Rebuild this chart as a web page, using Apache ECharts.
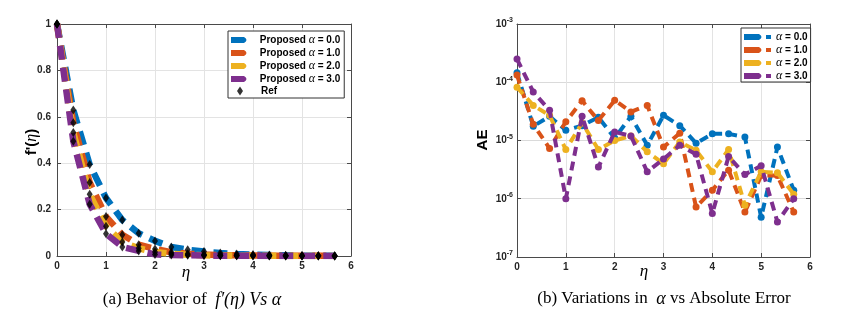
<!DOCTYPE html>
<html><head><meta charset="utf-8">
<script src="https://cdn.jsdelivr.net/npm/echarts@6/dist/echarts.min.js"></script>
<style>html,body{margin:0;padding:0;background:#fff}#c{width:849px;height:333px}</style>
</head><body><div id="c"></div>
<script>
// ---- data ----
const eta = [0, 0.333, 0.667, 1, 1.333, 1.667, 2, 2.333, 2.667, 3, 3.333, 3.667, 4, 4.333, 4.667, 5, 5.333, 5.667];
const alphaNames = ['0.0', '1.0', '2.0', '3.0'];
// f'(eta) for alpha = 0,1,2,3 (proposed and reference coincide)
const fpA0 = [1, 0.629, 0.394, 0.250, 0.155, 0.098, 0.065, 0.039, 0.027, 0.019, 0.013, 0.009, 0.006, 0.004, 0.003, 0.002, 0.0015, 0.001];
const fpA1 = [1, 0.574, 0.317, 0.170, 0.092, 0.049, 0.030, 0.016, 0.010, 0.006, 0.004, 0.003, 0.002, 0.0015, 0.001, 0.001, 0.0007, 0.0005];
const fpA2 = [1, 0.532, 0.266, 0.128, 0.060, 0.033, 0.017, 0.010, 0.005, 0.003, 0.002, 0.0015, 0.001, 0.0007, 0.0005, 0.0004, 0.0003, 0.0002];
const fpA3 = [1, 0.495, 0.223, 0.096, 0.039, 0.022, 0.007, 0.004, 0.003, 0.002, 0.001, 0.0008, 0.0006, 0.0004, 0.0003, 0.0002, 0.0001, 0.0001];
// absolute error for alpha = 0,1,2,3
const aeA0 = [1.46e-4, 1.76e-5, 2.6e-5, 1.5e-5, 1.8e-5, 2.5e-5, 1.1e-5, 2.6e-5, 8.3e-6, 2.7e-5, 1.8e-5, 9.0e-6, 1.3e-5, 1.3e-5, 1.15e-5, 4.8e-7, 7.7e-6, 1.4e-6];
const aeA1 = [1.33e-4, 1.9e-5, 7.3e-6, 2.1e-5, 4.8e-5, 2.2e-5, 4.9e-5, 3.1e-5, 4.0e-5, 7.7e-6, 1.33e-5, 7.2e-7, 1.4e-6, 3.1e-6, 5.9e-7, 2.5e-6, 2.5e-6, 5.9e-7];
const aeA2 = [8.2e-5, 4.0e-5, 2.7e-5, 7.0e-6, 2.0e-5, 7.0e-6, 1.0e-5, 1.2e-5, 6.4e-6, 4.0e-6, 9.4e-6, 6.8e-6, 2.9e-6, 7.0e-6, 7.7e-7, 2.9e-6, 2.8e-6, 1.2e-6];
const aeA3 = [2.5e-4, 6.8e-5, 3.3e-5, 1.0e-6, 2.6e-5, 3.5e-6, 1.4e-5, 1.2e-5, 2.9e-6, 4.8e-6, 8.3e-6, 5.8e-6, 5.6e-7, 5.3e-6, 2.6e-6, 3.7e-6, 4.0e-7, 1.0e-6];

const fpAll = [fpA0, fpA1, fpA2, fpA3];
const aeAll = [aeA0, aeA1, aeA2, aeA3];
const colors = ['#0072BD', '#D95319', '#EDB120', '#7E2F8E'];

const pairs = (ys) => eta.map((x, i) => [x, ys[i]]);

const sans = 'Liberation Sans, Arial, sans-serif';
const serif = 'Liberation Serif, Times New Roman, serif';
const axCol = '#4a4a4a';
const tickLab = { color: '#262626', fontSize: 10, fontWeight: 'bold', fontFamily: sans };

function xAx(grid, pos, labels) {
  return {
    type: 'value', gridIndex: grid, position: pos, min: 0, max: 6, interval: 1,
    axisLine: { show: true, onZero: false, lineStyle: { color: axCol, width: 1 } },
    axisTick: { show: true, inside: true, length: 4, lineStyle: { color: axCol } },
    axisLabel: labels ? Object.assign({ margin: 5 }, tickLab) : { show: false },
    splitLine: { show: labels, lineStyle: { color: '#e3e3e3', width: 1 } }
  };
}
function yLin(grid, pos, labels) {
  return {
    type: 'value', gridIndex: grid, position: pos, min: 0, max: 1, interval: 0.2,
    axisLine: { show: true, onZero: false, lineStyle: { color: axCol, width: 1 } },
    axisTick: { show: true, inside: true, length: 4, lineStyle: { color: axCol } },
    axisLabel: labels ? Object.assign({ margin: 6 }, tickLab) : { show: false },
    splitLine: { show: labels, lineStyle: { color: '#e3e3e3', width: 1 } }
  };
}
function yLog(grid, pos, labels) {
  return {
    type: 'log', logBase: 10, gridIndex: grid, position: pos, min: 1e-7, max: 1e-3,
    axisLine: { show: true, onZero: false, lineStyle: { color: axCol, width: 1 } },
    axisTick: { show: true, inside: true, length: 4, lineStyle: { color: axCol } },
    axisLabel: labels ? {
      margin: 4,
      formatter: (v) => '{b|10}{s|' + Math.round(Math.log10(v)) + '}',
      rich: {
        b: { color: '#262626', fontSize: 10, fontWeight: 'bold', fontFamily: sans },
        s: { color: '#262626', fontSize: 7, fontWeight: 'bold', fontFamily: sans, padding: [0, 0, 7, 0] }
      }
    } : { show: false },
    splitLine: { show: labels, lineStyle: { color: '#dadada', width: 1 } }
  };
}

const series = [];
// left: proposed curves
fpAll.forEach((ys, k) => {
  series.push({
    name: 'Proposed α = ' + alphaNames[k], type: 'line', xAxisIndex: 0, yAxisIndex: 0,
    data: pairs(ys), showSymbol: false, symbol: 'none', z: 2 + k,
    lineStyle: { color: colors[k], width: 6.5, type: [14, 8] }, itemStyle: { color: colors[k] },
    animation: false
  });
});
// left: reference diamonds
const refPts = [];
fpAll.forEach((ys) => ys.forEach((y, i) => refPts.push([eta[i], y])));
series.push({
  name: 'Ref', type: 'scatter', xAxisIndex: 0, yAxisIndex: 0, data: refPts,
  symbol: 'diamond', symbolSize: [6, 9], z: 10,
  itemStyle: { color: '#000' }, animation: false
});
// right: minor log grid
const minorVals = [];
for (let d = -7; d <= -4; d++) for (let m = 2; m <= 9; m++) minorVals.push(m * Math.pow(10, d));
series.push({
  name: 'minorgrid', type: 'line', xAxisIndex: 2, yAxisIndex: 2, data: [], z: 1, silent: true,
  markLine: {
    silent: true, symbol: ['none', 'none'], label: { show: false }, animation: false,
    lineStyle: { color: '#cfcfcf', width: 0.7, type: [1, 2] },
    data: minorVals.map(v => ({ yAxis: v }))
  }
});
// right: absolute error curves
aeAll.forEach((ys, k) => {
  series.push({
    name: 'α = ' + alphaNames[k], type: 'line', xAxisIndex: 2, yAxisIndex: 2,
    data: pairs(ys), symbol: 'circle', symbolSize: 7, showSymbol: true, z: 3 + k,
    lineStyle: { color: colors[k], width: 4, type: [9, 6] }, itemStyle: { color: colors[k] },
    animation: false
  });
});

const legText = {
  color: '#000', fontSize: 10, fontWeight: 'bold', fontFamily: sans,
  rich: { a: { fontFamily: serif, fontStyle: 'italic', fontSize: 12, fontWeight: 'normal', color: '#000' } }
};
const arrowIcon = 'path://M0,0 L13,0 Q18,3 13,6 L0,6 Z';
const arrowSqIcon = 'path://M0,0 L15,0 Q20,3 15,6 L0,6 Z M22,1 L27,1 L27,5 L22,5 Z';

const option = {
  backgroundColor: '#fff',
  animation: false,
  grid: [
    { left: 57, right: 498, top: 24, bottom: 77, show: false },
    { left: 517, right: 39, top: 24, bottom: 76, show: false }
  ],
  xAxis: [xAx(0, 'bottom', true), xAx(0, 'top', false), xAx(1, 'bottom', true), xAx(1, 'top', false)],
  yAxis: [yLin(0, 'left', true), yLin(0, 'right', false), yLog(1, 'left', true), yLog(1, 'right', false)],
  legend: [
    {
      left: 228, top: 31, orient: 'vertical', itemGap: 1, itemWidth: 18, itemHeight: 6,
      padding: [3, 4, 13, 3], backgroundColor: '#fff', borderColor: '#333', borderWidth: 1,
      selectedMode: false, z: 20,
      textStyle: Object.assign({ padding: [0, 0, 0, 7], lineHeight: 12 }, legText),
      formatter: (n) => n.replace('α', '{a|α}'),
      data: fpAll.map((_, k) => ({ name: 'Proposed α = ' + alphaNames[k], icon: arrowIcon }))
    },
    {
      left: 237, top: 85, orient: 'vertical', itemWidth: 6, itemHeight: 9,
      padding: 0, selectedMode: false, z: 21,
      textStyle: Object.assign({ padding: [0, 0, 0, 13], lineHeight: 12 }, legText),
      data: [{ name: 'Ref', icon: 'diamond' }]
    },
    {
      left: 741, top: 28, orient: 'vertical', itemGap: 1, itemWidth: 27, itemHeight: 6,
      padding: [3, 3, 0, 3], backgroundColor: '#fff', borderColor: '#333', borderWidth: 1,
      selectedMode: false,
      textStyle: Object.assign({ padding: [0, 0, 0, 0], lineHeight: 12 }, legText),
      formatter: (n) => n.replace('α', '{a|α}'),
      data: aeAll.map((_, k) => ({ name: 'α = ' + alphaNames[k], icon: arrowSqIcon }))
    }
  ],
  graphic: [
    { type: 'text', x: 186, y: 273, style: { text: 'η', font: 'italic 17px ' + serif, fill: '#000', align: 'center', verticalAlign: 'middle' } },
    { type: 'text', x: 644, y: 272, style: { text: 'η', font: 'italic 17px ' + serif, fill: '#000', align: 'center', verticalAlign: 'middle' } },
    { type: 'text', x: 32, y: 142, rotation: Math.PI / 2,
      style: { text: "{f|f'}{p|(}{e|η}{p|)}", align: 'center', verticalAlign: 'middle',
        rich: { f: { fontFamily: sans, fontWeight: 'bold', fontSize: 15, fill: '#000' },
                p: { fontFamily: sans, fontWeight: 'bold', fontSize: 15, fill: '#000' },
                e: { fontFamily: serif, fontStyle: 'italic', fontSize: 16, fill: '#000' } } } },
    { type: 'text', x: 483, y: 140, rotation: Math.PI / 2,
      style: { text: 'AE', font: 'bold 15px ' + sans, fill: '#000', align: 'center', verticalAlign: 'middle' } },
    { type: 'text', x: 192, y: 300,
      style: { text: "{r|(a) Behavior of  }{i|f′(η)}{r| }{i|Vs α}", align: 'center', verticalAlign: 'middle',
        rich: { r: { fontFamily: serif, fontSize: 17, fill: '#000' },
                i: { fontFamily: serif, fontStyle: 'italic', fontSize: 18, fill: '#000' } } } },
    { type: 'text', x: 664, y: 299,
      style: { text: "{r|(b) Variations in  }{i|α}{r| vs Absolute Error}", align: 'center', verticalAlign: 'middle',
        rich: { r: { fontFamily: serif, fontSize: 17, fill: '#000' },
                i: { fontFamily: serif, fontStyle: 'italic', fontSize: 18, fill: '#000' } } } }
  ],
  series: series
};

const chart = echarts.init(document.getElementById('c'), null, { renderer: 'canvas' });
chart.setOption(option);
</script>
</body></html>
